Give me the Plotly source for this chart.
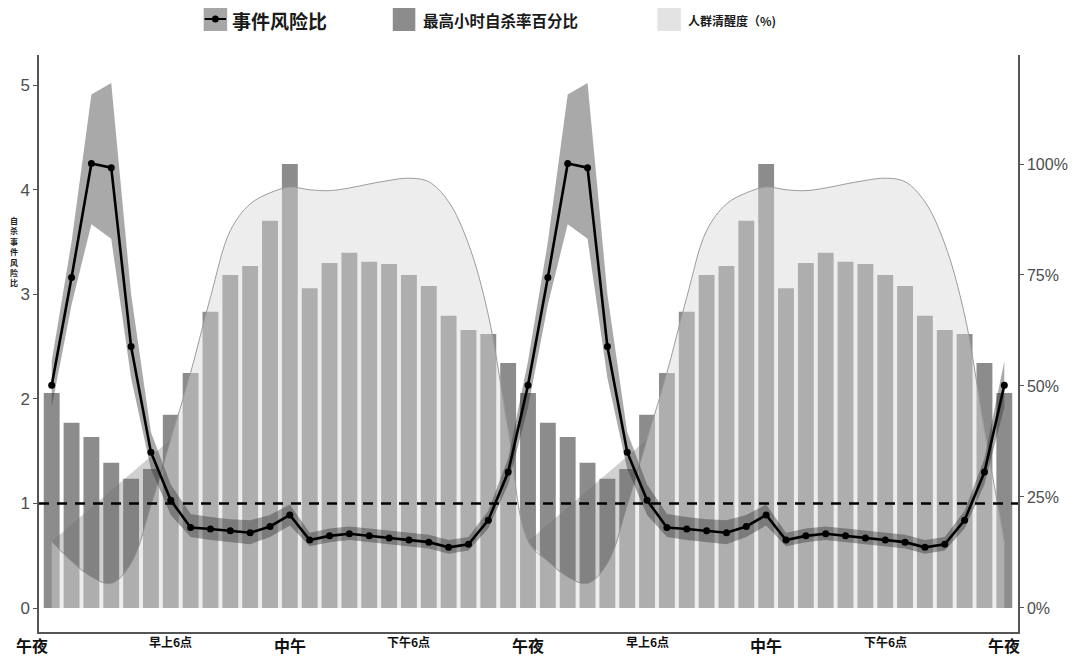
import plotly.graph_objects as go

# ---------------- data ----------------
hours = list(range(49))

suicide_pct = [48.4, 41.7, 38.5, 32.7, 29.1, 31.3, 43.5, 52.9, 66.7, 75.0, 77.0, 87.2,
               100.0, 72.0, 77.7, 80.0, 78.0, 77.5, 75.0, 72.5, 65.8, 62.6, 61.7, 55.2,
               48.4, 41.7, 38.5, 32.7, 29.1, 31.3, 43.5, 52.9, 66.7, 75.0, 77.0, 87.2,
               100.0, 72.0, 77.7, 80.0, 78.0, 77.5, 75.0, 72.5, 65.8, 62.6, 61.7, 55.2,
               48.4]

risk_ratio = [2.13, 3.16, 4.25, 4.21, 2.50, 1.49, 1.03, 0.77, 0.755, 0.74, 0.72, 0.78,
              0.89, 0.65, 0.69, 0.71, 0.69, 0.67, 0.65, 0.63, 0.58, 0.61, 0.84, 1.30,
              2.13, 3.16, 4.25, 4.21, 2.50, 1.49, 1.03, 0.77, 0.755, 0.74, 0.72, 0.78,
              0.89, 0.65, 0.69, 0.71, 0.69, 0.67, 0.65, 0.63, 0.58, 0.61, 0.84, 1.30,
              2.13]

risk_hi = [2.36, 3.50, 4.91, 5.02, 3.00, 1.68, 1.18, 0.90, 0.87, 0.85, 0.84, 0.89,
           0.99, 0.72, 0.76, 0.78, 0.76, 0.74, 0.72, 0.70, 0.65, 0.68, 0.93, 1.43,
           2.36, 3.50, 4.91, 5.02, 3.00, 1.68, 1.18, 0.90, 0.87, 0.85, 0.84, 0.89,
           0.99, 0.72, 0.76, 0.78, 0.76, 0.74, 0.72, 0.70, 0.65, 0.68, 0.93, 1.43,
           2.36]

risk_lo = [1.92, 2.90, 3.67, 3.53, 2.20, 1.33, 0.89, 0.68, 0.65, 0.63, 0.61, 0.68,
           0.79, 0.59, 0.63, 0.65, 0.63, 0.61, 0.59, 0.57, 0.52, 0.55, 0.76, 1.18,
           1.92, 2.90, 3.67, 3.53, 2.20, 1.33, 0.89, 0.68, 0.65, 0.63, 0.61, 0.68,
           0.79, 0.59, 0.63, 0.65, 0.63, 0.61, 0.59, 0.57, 0.52, 0.55, 0.76, 1.18,
           1.92]

awake_pct = [15.0, 10.5, 7.0, 5.5, 10.0, 23.0, 38.0, 53.0, 70.0, 85.0, 91.0, 93.5,
             94.8, 94.2, 94.0, 94.6, 95.5, 96.3, 96.8, 96.0, 91.5, 82.0, 66.0, 40.0,
             15.0, 10.5, 7.0, 5.5, 10.0, 23.0, 38.0, 53.0, 70.0, 85.0, 91.0, 93.5,
             94.8, 94.2, 94.0, 94.6, 95.5, 96.3, 96.8, 96.0, 91.5, 82.0, 66.0, 40.0,
             15.0]

# night segments of the wakefulness curve that are shaded darker (start hour, end hour)
night_segments = [(0, 6), (24, 30)]

tick_hours = [0, 6, 12, 18, 24, 30, 36, 42, 48]
tick_labels = ["午夜", "早上6点", "中午", "下午6点", "午夜", "早上6点", "中午", "下午6点", "午夜"]
tick_sizes = [16, 12, 16, 12, 16, 12, 16, 12, 16]

pct_ticks = [0, 25, 50, 75, 100]
pct_labels = ["0%", "25%", "50%", "75%", "100%"]
rr_ticks = [0, 1, 2, 3, 4, 5]

legend_names = ["事件风险比", "最高小时自杀率百分比", "人群清醒度（%)"]

CJK = "Noto Sans CJK SC"

fig = go.Figure()

# bars (percent axis, main y)
fig.add_trace(go.Bar(x=hours, y=suicide_pct, yaxis="y", width=0.8,
                     marker=dict(color="#8c8c8c", line=dict(width=0)),
                     showlegend=False))
# awake area
fig.add_trace(go.Scatter(x=hours, y=awake_pct, yaxis="y", mode="lines",
                         line=dict(color="#9c9c9c", width=1, shape="spline"),
                         fill="tozeroy", fillcolor="rgba(215,215,215,0.45)",
                         showlegend=False))
# darker night bowls of the wakefulness curve
for a, b in night_segments:
    fig.add_trace(go.Scatter(x=hours[a:b + 1], y=awake_pct[a:b + 1], yaxis="y", mode="lines",
                             line=dict(width=0, shape="spline"), fill="toself",
                             fillcolor="rgba(110,110,110,0.32)", showlegend=False,
                             hoverinfo="skip"))
# CI ribbon (risk ratio axis y2)
fig.add_trace(go.Scatter(x=hours + hours[::-1], y=risk_hi + risk_lo[::-1], yaxis="y2",
                         mode="lines", line=dict(width=0), fill="toself",
                         fillcolor="rgba(50,50,50,0.42)", showlegend=False))
# risk ratio line
fig.add_trace(go.Scatter(x=hours, y=risk_ratio, yaxis="y2", mode="lines+markers",
                         line=dict(color="black", width=2.6),
                         marker=dict(color="black", size=7), showlegend=False))

shapes = [dict(type="line", xref="paper", x0=0, x1=1, yref="y2", y0=1, y1=1,
               line=dict(color="black", width=2.5, dash="10px,8px"), layer="above")]

annotations = []
for h, lab, s in zip(tick_hours, tick_labels, tick_sizes):
    annotations.append(dict(x=h, xref="x", y=0, yref="paper", yanchor="top",
                            yshift=1,
                            xshift=-20 if h == tick_hours[0] else 0,
                            text=lab, showarrow=False,
                            font=dict(family=CJK, size=s, color="#111", weight="bold")))

# left axis title (vertical stacked characters)
annotations.append(dict(x=0, xref="paper", xshift=-31, y=0.66, yref="paper",
                        text="<br>".join(list("自杀事件风险比")), showarrow=False,
                        font=dict(family=CJK, size=8, color="#222", weight="bold")))

# manual legend (paper coordinates above plot area; plot area spans x 37-1036, y 55-632 on screen)
def px(x):
    return (x - 37) / 999.0

def py(y):
    return (632 - y) / 577.0

shapes += [
    dict(type="rect", xref="paper", yref="paper", x0=px(205), x1=px(229), y0=py(31), y1=py(8),
         fillcolor="#a6a6a6", line=dict(width=0)),
    dict(type="line", xref="paper", yref="paper", x0=px(206), x1=px(228), y0=py(19), y1=py(19),
         line=dict(color="black", width=2)),
    dict(type="circle", xref="paper", yref="paper", x0=px(213.5), x1=px(220.5), y0=py(22.5), y1=py(15.5),
         fillcolor="black", line=dict(width=0)),
    dict(type="rect", xref="paper", yref="paper", x0=px(398), x1=px(421), y0=py(31), y1=py(8),
         fillcolor="#8c8c8c", line=dict(width=0)),
    dict(type="rect", xref="paper", yref="paper", x0=px(668), x1=px(692), y0=py(31), y1=py(8),
         fillcolor="#e3e3e3", line=dict(width=0)),
]
for xx, name, s in zip([233, 428, 698], legend_names, [19, 15.5, 12]):
    annotations.append(dict(x=px(xx), xref="paper", xanchor="left", y=py(20), yref="paper",
                            yanchor="middle", text=name, showarrow=False, borderpad=0,
                            font=dict(family=CJK, size=s, color="#1a1a1a", weight="bold")))

# page body adds an 8px offset at top/left, so the figure is 8px smaller
fig.update_layout(
    width=1072, height=650,
    margin=dict(l=29, r=44, t=47, b=26),
    paper_bgcolor="white", plot_bgcolor="white",
    bargap=0.2, showlegend=False,
    xaxis=dict(range=[-0.64, 48.69], showgrid=False, zeroline=False, showticklabels=False,
               ticks="", showline=True, linecolor="#555", linewidth=1.5),
    yaxis=dict(side="right", range=[-5.41, 124.55], tickvals=pct_ticks, ticktext=pct_labels,
               showgrid=False, zeroline=False, showline=True, linecolor="#555", linewidth=1.5,
               ticks="outside", ticklen=4, tickcolor="#555",
               tickfont=dict(family="Liberation Sans", size=16, color="#4d4d4d")),
    yaxis2=dict(side="left", overlaying="y", range=[-0.229, 5.287], tickvals=rr_ticks,
                showgrid=False, zeroline=False, showline=True, linecolor="#555", linewidth=1.5,
                ticks="outside", ticklen=4, tickcolor="#555",
                tickfont=dict(family="Liberation Sans", size=17, color="#4d4d4d")),
    shapes=shapes, annotations=annotations,
)

fig.write_html("out.html")
